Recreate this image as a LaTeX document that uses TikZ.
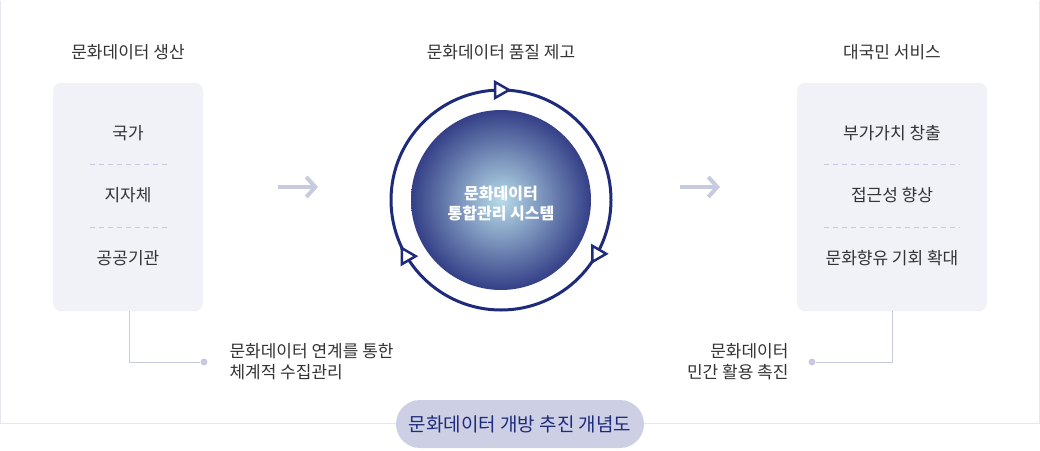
\documentclass[tikz,border=0pt]{standalone}
\usepackage{fontspec}
\setmainfont{Noto Sans CJK KR}
\usetikzlibrary{positioning,arrows.meta,calc}
\definecolor{navy}{HTML}{1E2A7A}
\definecolor{boxbg}{HTML}{F1F2F7}
\definecolor{soft}{HTML}{C8CBE0}
\definecolor{pill}{HTML}{CDD0E5}
\definecolor{txt}{HTML}{333333}
\begin{document}
\begin{tikzpicture}[x=1pt,y=-1pt,
    title/.style={font=\fontsize{17}{20}\selectfont,text=txt},
    item/.style={font=\fontsize{17}{20}\selectfont,text=txt},
    panel/.style={fill=boxbg,rounded corners=8pt,draw=none},
    sep/.style={draw=soft,dash pattern=on 5pt off 4pt},
    link/.style={draw=soft,line width=0.8pt},
    tip/.style={fill=soft,circle,inner sep=0pt,minimum size=7pt},
    note/.style={font=\fontsize{17}{21}\selectfont,text=txt,align=left},
    flow/.style={draw=soft,line width=4pt,-{Straight Barb[length=9pt,width=20pt,line width=4pt]}}]
  \useasboundingbox (0,0) rectangle (1040,450);
  \draw[draw=boxbg!70!soft] (0.5,0.5) -- (0.5,423) -- (1039.5,423) -- (1039.5,0.5);

  % columns
  \node[title] (ttlleft) at (128,52) {문화데이터 생산};
  \node[title] (ttlmid) at (501,52) {문화데이터 품질 제고};
  \node[title] (ttlright) at (892,52) {대국민 서비스};

  \fill[panel] (53,83) rectangle (203,311);
  \fill[panel] (797,83) rectangle (987,311);
  \node[item] (nat) at (128,133) {국가};
  \node[item] (loc) at (128,195) {지자체};
  \node[item] (pub) at (128,258) {공공기관};
  \draw[sep] (90,164) -- (168,164);
  \draw[sep] (90,227) -- (168,227);
  \node[item] (add) at (892,133) {부가가치 창출};
  \node[item] (acc) at (892,195) {접근성 향상};
  \node[item] (enj) at (892,258) {문화향유 기회 확대};
  \draw[sep] (824,164) -- (960,164);
  \draw[sep] (824,227) -- (960,227);

  % arrows
  \coordinate (fa1) at (278,187);
  \coordinate (fa2) at (318,187);
  \coordinate (fb1) at (680,187);
  \coordinate (fb2) at (720,187);
  \draw[flow] (fa1) -- (fa2);
  \draw[flow] (fb1) -- (fb2);

  % centre
  \coordinate (core) at (501,200);
  \shade[inner color=navy!55!cyan!30!white,outer color=navy!90] (core) circle (90);
  \node[font=\fontsize{16}{20}\selectfont\bfseries,text=white,align=center] (sys) at (501,204) {문화데이터\\통합관리 시스템};
  \draw[navy,line width=3pt] (core) circle (110);
  \foreach \a in {0,120,240}{
    \draw[navy,line width=2.5pt,fill=white,rotate around={\a:(core)}]
      ($(core)+(0,-110)$) ++(-6,-8) -- ++(14,8) -- ++(-14,8) -- cycle;
  }

  % notes
  \node[tip] (dotl) at (204,362) {};
  \node[tip] (dotr) at (812,362) {};
  \coordinate (cl) at (129,362);
  \coordinate (cr) at (892,362);
  \draw[link] (129,311) -- (cl) -- (dotl);
  \draw[link] (892,311) -- (cr) -- (dotr);
  \node[note,anchor=west] (notel) at (226,362) {문화데이터 연계를 통한\\체계적 수집관리};
  \node[note,anchor=east,align=right] (noter) at (792,362) {문화데이터\\민간 활용 촉진};

  \node[fill=pill,rounded corners=24pt,minimum width=248pt,minimum height=48pt,
    font=\fontsize{19}{22}\selectfont,text=navy] (caption) at (520,424) {문화데이터 개방 추진 개념도};
\end{tikzpicture}
\end{document}
